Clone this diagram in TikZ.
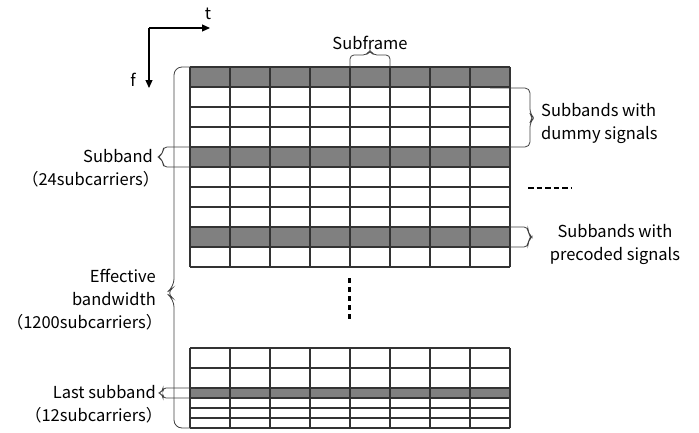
\documentclass[tikz,border=0pt]{standalone}
\usepackage{fontspec}
\setmainfont{Noto Sans CJK JP}
\usetikzlibrary{arrows.meta}

\begin{document}
\begin{tikzpicture}[x=1pt,y=-1pt,>={Triangle[length=8pt,width=7pt]},
 font=\fontsize{16.5}{23}\selectfont,
 grid/.style={draw=black!80,line width=1.1pt},
 band/.style={fill=black!50},
 brc/.style={draw=black!75,line width=0.8pt,rounded corners=5pt},
 lab/.style={inner sep=0pt,text=black}]
\useasboundingbox (0,0) rectangle (699,432);
% axes
\coordinate (o) at (149,28); \coordinate (tend) at (210,28); \coordinate (fend) at (149,88);
\draw[->,line width=1.1pt] (o) -- (tend);
\draw[->,line width=1.1pt] (o) -- (fend);
\node[lab] (t) at (208,14) {t};
\node[lab] (f) at (133,80) {f};
% upper block of subbands
\foreach \r in {0,4,8} \fill[band] (190,67+20*\r) rectangle (510,87+20*\r);
\foreach \y in {67,87,...,267} \draw[grid] (190,\y) -- (510,\y);
\foreach \x in {190,230,...,510} \draw[grid] (\x,67) -- (\x,267);
% last block
\fill[band] (190,388) rectangle (510,398);
\foreach \y in {348,368,388,398,408,418,428} \draw[grid] (190,\y) -- (510,\y);
\foreach \x in {190,230,...,510} \draw[grid] (\x,348) -- (\x,428);
% dots
\draw[line width=2.4pt,dash pattern=on 5pt off 4pt] (349.5,278) -- (349.5,322);
\draw[line width=2.2pt,dash pattern=on 5.5pt off 3pt] (528,188) -- (571,188);
% braces
\draw[brc,rounded corners=8pt] (190,67) -- (174,67) -- (174,287) -- (166,293) -- (174,299) -- (174,428) -- (190,428);
\draw[brc,rounded corners=4pt] (200,147) -- (163,147) -- (163,154) -- (157,157) -- (163,160) -- (163,167) -- (200,167);
\draw[brc,rounded corners=3pt] (195,388) -- (163,388) -- (163,391) -- (158,393) -- (163,395) -- (163,398) -- (200,398);
\draw[brc,rounded corners=4pt] (350,67) -- (350,55) -- (367,55) -- (370,50) -- (373,55) -- (390,55) -- (390,67);
\draw[brc] (490,88) -- (530,88) -- (530,114) -- (534,118) -- (530,122) -- (530,147) -- (490,147);
\draw[brc,rounded corners=4pt] (490,227) -- (528,227) -- (528,233) -- (532,237) -- (528,241) -- (528,247) -- (490,247);
% labels
\node[lab] (sf) at (370,43) {Subframe};
\node[lab,anchor=east,align=right] (sb) at (153,168) {Subband\\（24subcarriers）\kern-0.4em};
\node[lab,anchor=east,align=right] (eb) at (156,300) {Effective\\bandwidth\\（1200subcarriers）\kern-0.4em};
\node[lab,anchor=east,align=right] (ls) at (156,404) {Last subband\\（12subcarriers）\kern-0.4em};
\node[lab,anchor=west,align=left] (dm) at (541,123) {Subbands with\\dummy signals};
\node[lab,align=center] (pc) at (615,244) {Subbands with\\precoded signals};
\end{tikzpicture}
\end{document}
